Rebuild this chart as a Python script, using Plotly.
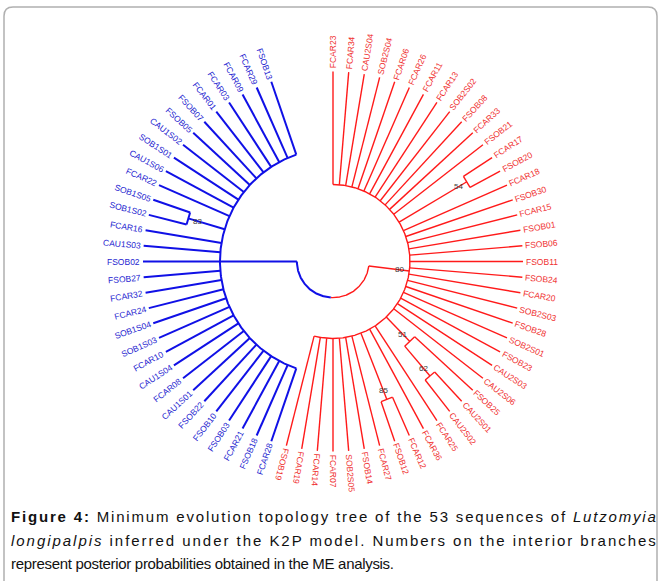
import math
import plotly.graph_objects as go

# ---------------- data ----------------
# red clade leaves, clockwise from the top
red_leaves = ["FCAR23", "FCAR34", "CAU2S04", "SOB2S04", "FCAR06", "FCAR26", "FCAR11",
              "FCAR13", "SOB2S02", "FSOB08", "FCAR33", "FSOB21", "FCAR17", "FSOB20",
              "FCAR18", "FSOB30", "FCAR15", "FSOB01", "FSOB06", "FSOB11", "FSOB24",
              "FCAR20", "SOB2S03", "FSOB28", "SOB2S01", "FSOB23", "CAU2S03", "CAU2S06",
              "FSOB25", "CAU2S01", "CAU2S02", "FCAR25", "FCAR36", "FCAR12", "FSOB12",
              "FCAR27", "FSOB14", "SOB2S05", "FCAR07", "FCAR14", "FCAR19", "FSOB19"]
# blue clade leaves, clockwise from the bottom
blue_leaves = ["FCAR28", "FSOB18", "FCAR21", "FSOB03", "FSOB10", "FSOB22", "CAU1S01",
               "FCAR08", "CAU1S04", "FCAR10", "SOB1S03", "SOB1S04", "FCAR24", "FCAR32",
               "FSOB27", "FSOB02", "CAU1S03", "FCAR16", "SOB1S02", "SOB1S05", "FCAR22",
               "CAU1S06", "SOB1S01", "CAU1S02", "FSOB05", "FSOB07", "FCAR01", "FCAR03",
               "FCAR09", "FCAR29", "FSOB13"]
# node depth (fraction of the root-to-tip distance)
node_depth = {"root": 0.19, "red": 0.405, "blue": 0.595, "n54": 0.82, "n51": 0.584,
              "n62": 0.79, "n85": 0.78, "n83": 0.795}
# support values
node_support = {"red": 80, "n54": 54, "n51": 51, "n62": 62, "n85": 85, "n83": 83}

# caption: segments per line; style b=bold, i=italic, r=regular
caption_lines = [
    [("Figure 4:", "b"), (" Minimum evolution topology tree of the 53 sequences of ", "r"),
     ("Lutzomyia", "i")],
    [("longipalpis", "i"), (" inferred under the K2P model. Numbers on the interior branches", "r")],
    [("represent posterior probabilities obtained in the ME analysis.", "r")],
]

# ---------------- tree structure ----------------
R = red_leaves
B = blue_leaves
tree = {"name": "root", "children": [
    {"name": "red", "children": R[0:12] + [{"name": "n54", "children": R[12:14]}] + R[14:28]
        + [{"name": "n51", "children": [R[28], {"name": "n62", "children": R[29:31]}]}]
        + R[31:33] + [{"name": "n85", "children": R[33:35]}] + R[35:]},
    {"name": "blue", "children": B[0:18] + [{"name": "n83", "children": B[18:20]}] + B[20:]},
]}

# ---------------- layout constants ----------------
W, H = 662, 581
CX, CY = 333, 261.5
R_LEAF = 190
SLOTS = 76
STEP = 360.0 / SLOTS
START = 270.0
RED_C, BLUE_C = "#ff1a1a", "#1010e6"
RED_T, BLUE_T = "#f03030", "#2424d0"

order = red_leaves + blue_leaves
leaf_angle = {name: START + i * STEP for i, name in enumerate(order)}


def pt(r, a):
    t = math.radians(a)
    return CX + r * math.cos(t), CY + r * math.sin(t)


segs = {"red": ([], []), "blue": ([], [])}


def add_line(col, r1, r2, a):
    x1, y1 = pt(r1, a)
    x2, y2 = pt(r2, a)
    xs, ys = segs[col]
    xs += [x1, x2, None]
    ys += [y1, y2, None]


def add_arc(col, r, a1, a2):
    n = max(2, int(abs(a2 - a1) / 0.5) + 1)
    xs, ys = segs[col]
    for k in range(n + 1):
        x, y = pt(r, a1 + (a2 - a1) * k / n)
        xs.append(x)
        ys.append(y)
    xs.append(None)
    ys.append(None)


node_pos = {}


def layout(node, col):
    if isinstance(node, str):
        return leaf_angle[node], R_LEAF
    res = [layout(c, col) for c in node["children"]]
    a = (res[0][0] + res[-1][0]) / 2
    r = node_depth[node["name"]] * R_LEAF
    add_arc(col, r, res[0][0], res[-1][0])
    for ca, cr in res:
        add_line(col, r, cr, ca)
    node_pos[node["name"]] = (a, r)
    return a, r


ra, rr = layout(tree["children"][0], "red")
ba, br = layout(tree["children"][1], "blue")
r0 = node_depth["root"] * R_LEAF
mid = (ra + ba) / 2
add_arc("red", r0, ra, mid)
add_arc("blue", r0, mid, ba)
add_line("red", r0, rr, ra)
add_line("blue", r0, br, ba)

fig = go.Figure()
for col, c, w in (("red", RED_C, 1.4), ("blue", BLUE_C, 2.0)):
    xs, ys = segs[col]
    fig.add_trace(go.Scatter(x=xs, y=ys, mode="lines", line=dict(color=c, width=w),
                             hoverinfo="skip", showlegend=False))

# ---------------- text metrics (Arial / Liberation Sans) ----------------
AW = {"A": 667, "B": 667, "C": 722, "E": 667, "F": 611, "K": 667, "L": 556, "M": 833,
      "N": 722, "O": 778, "P": 667, "R": 722, "S": 667, "U": 722,
      "a": 556, "b": 556, "c": 500, "d": 556, "e": 556, "f": 278, "g": 556, "h": 556,
      "i": 222, "j": 222, "k": 500, "l": 222, "m": 833, "n": 556, "o": 556, "p": 556,
      "q": 556, "r": 333, "s": 500, "t": 278, "u": 556, "v": 500, "w": 722, "x": 500,
      "y": 500, "z": 500, " ": 278, ".": 278, ":": 278}
AWB = {"F": 611, "i": 278, "g": 611, "u": 611, "r": 389, "e": 556, ":": 333, " ": 278}


def text_w(s, size, bold=False):
    tot = 0
    for ch in s:
        if bold:
            tot += AWB.get(ch, 556)
        else:
            tot += AW.get(ch, 556)
    return tot / 1000.0 * size


def norm(a):
    a = a % 360
    if a > 180:
        a -= 360
    return a


annotations = []
FS = 8.5
for name in order:
    a = leaf_angle[name]
    is_red = name in red_leaves
    w = text_w(name, FS)
    x, y = pt(R_LEAF + 3 + w / 2, a)
    ang = norm(a) if is_red else norm(a - 180)
    annotations.append(dict(x=x, y=y, xref="x", yref="y", text=name, showarrow=False,
                            textangle=ang, xanchor="center", yanchor="middle",
                            font=dict(family="Arial, Liberation Sans", size=FS,
                                      color=RED_T if is_red else BLUE_T)))

for nm, val in node_support.items():
    a, r = node_pos[nm]
    x, y = pt(r - 10, a)
    annotations.append(dict(x=x, y=y, xref="x", yref="y", text=str(val), showarrow=False,
                            xanchor="center", yanchor="middle",
                            font=dict(family="Arial, Liberation Sans", size=8, color="#3a3a3a")))

# caption, each line fitted to its extent with letter spacing
CFS = 15
X0 = 10
line_end = [655, 655, 393]
cap_y = [516, 540, 563]
for segsl, xe, yy in zip(caption_lines, line_end, cap_y):
    nat = sum(text_w(t, CFS, st == "b") for t, st in segsl)
    nchar = sum(len(t) for t, st in segsl)
    ls = (xe - X0 - nat) / (nchar - 1)
    parts = []
    for t, st in segsl:
        inner = "<span style='letter-spacing:%.2fpx'>%s</span>" % (ls, t)
        if st == "b":
            inner = "<b>%s</b>" % inner
        elif st == "i":
            inner = "<i>%s</i>" % inner
        parts.append(inner)
    annotations.append(dict(x=X0, y=yy, xref="x", yref="y", text="".join(parts),
                            showarrow=False, xanchor="left", yanchor="middle", borderpad=0,
                            font=dict(family="Arial, Liberation Sans", size=CFS,
                                      color="#111111")))

frame = "M 4,581 L 4,16 Q 4,7 13,7 L 648,7 Q 657,7 657,16 L 657,581"

fig.update_layout(
    width=W, height=H, autosize=False,
    margin=dict(l=0, r=0, t=0, b=0),
    paper_bgcolor="white", plot_bgcolor="white",
    xaxis=dict(range=[0, W], visible=False, fixedrange=True),
    yaxis=dict(range=[H, 0], visible=False, fixedrange=True),
    annotations=annotations,
    shapes=[dict(type="path", path=frame, xref="x", yref="y",
                 line=dict(color="#b0b0b0", width=1.5))],
)

fig.write_html("out.html", config={"displayModeBar": False},
               post_script="document.body.style.margin='0';")
